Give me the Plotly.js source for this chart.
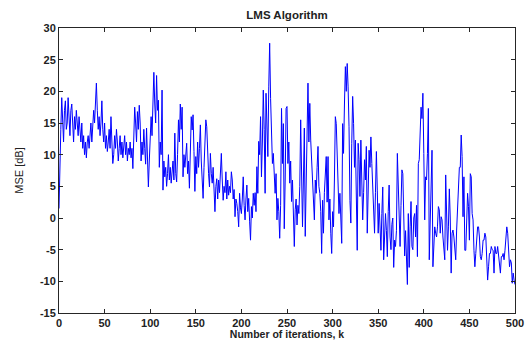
<!DOCTYPE html>
<html>
<head>
<meta charset="utf-8">
<script src="https://cdn.plot.ly/plotly-3.0.1.min.js"></script>
<style>html,body{margin:0;padding:0;background:#fff;}#chart{width:530px;height:340px;}</style>
</head>
<body>
<div id="chart"></div>
<script>
// MSE [dB] per iteration k = 0..500
const mseDb = [
  1.5, 6, 14, 19, 16, 12, 17, 18.5, 14, 15,
  19, 16, 13, 17, 18, 15, 12, 16, 14, 17,
  15, 13, 16, 14, 12, 15, 11, 13, 10, 12,
  9.5, 12, 13, 11, 14, 15, 12, 16, 17, 15,
  18, 21.3, 17, 14, 16, 13, 15, 18.5, 14, 12,
  15, 11, 13, 10.5, 12, 14, 11, 16, 12, 8.6,
  10, 13, 11, 14, 12, 9, 11, 13, 10, 12,
  9.5, 11, 13, 10, 12, 9, 11, 10, 12, 9.5,
  11, 7.8, 13, 17.5, 15, 12, 16.8, 14, 17.8, 15,
  9, 12, 10, 14, 11, 8.5, 14.2, 10, 4.9, 9,
  12, 16, 13, 19, 23, 18, 15, 22.5, 17, 18.6,
  8, 12, 10, 20.2, 4.4, 9, 6.5, 8, 5, 7,
  10, 6, 8, 5.5, 7, 9, 6, 13.4, 7, 5.7,
  10, 15.5, 12, 18, 14, 17.5, 6.5, 10, 8, 11,
  11.8, 7, 9, 4.7, 10, 16, 13.9, 16.3, 10.5, 4.2,
  9.7, 7, 12, 8, 11, 14.7, 9, 6, 3.1, 8,
  12, 15.5, 14.4, 9, 7, 4.9, 10.2, 7, 5.5, 8,
  4, 1, 5, 6.2, 3, 6, 4, 7, 10.2, 6,
  2.8, 5, 4, 7.3, 3, 6, 3.6, 5, 4, 7.3,
  6, 3, 4.5, 0.2, 3, 2.3, 1, -1.4, 3.9, 1.6,
  0.7, 3, 6.5, 2, -0.3, 3, 5.2, 1, 3.1, -0.5,
  -3.5, 1.8, 0, 3.9, 2, 4, 1, 8.1, 3.9, 12.1,
  10, 16, 6.5, 12, 20.2, 14, 3.9, 19.7, 12, 9.7,
  20.7, 27.6, 18.9, 13, 8.6, 10.2, 6, 3.9, 7, -0.3,
  3.1, 1, -3.2, 2, 17.3, 8.6, 14.9, -1.7, 6, 17.3,
  17.6, 8.6, 12, 5.5, 9, 2.6, 6, -1.4, -4.5, 1.3,
  3, -1.1, 2, 0.7, 5, 15.5, 4, -1.4, 6, 14.2,
  -2.9, 8, 16.7, 21.3, 12, 18.1, 12.3, 9.2, 7.6, 4,
  -0.3, 6, 3.9, 8, 11.3, 5, 3.9, 1, -5.6, 2.8,
  -2.4, 4, 6.5, 9.7, 2.5, 9.7, -0.3, 3, -2.4, -5.6,
  1, -1.4, 6, 16, 14.9, 10, 8.1, 0.7, 3.9, -1,
  -4, 14.9, 10.2, 18, 23.9, 20, 24.4, 20.7, 14.4, 2.8,
  -0.8, 11.8, 19.2, 14.9, 8, 12.3, 0.7, -5.1, 11.8, 9.2,
  3.4, 12.3, 6, -0.3, 4, 9.2, 6, 11.3, -2.4, 5,
  10.7, 8, 12.8, 8.6, 5, 3.4, -2.4, 4, 10.5, 4.4,
  -2.4, 2.3, -1, -5.1, 0.7, 4.9, -6.6, -3, 0.7, -2,
  -6.1, 1, 5.2, -3, -5, -1, 0, -7.8, -3.5, -4.5,
  -2, 10.2, 4.4, -3, -4.5, 2, 7.6, 7, 1, -6,
  -2, -8, -10.5, 0.7, -7.8, -1.4, 2.6, -4.5, -5, 0,
  0.7, -3, 2, -6.1, 8.6, 9.2, 14.9, 17.5, 15.7, 19.7,
  10.2, -0.3, 6.5, 6, 10.2, 17.3, -6.6, -1.4, 7, 10.7,
  -7.7, -4.5, -1.4, -2.4, -3, -1.4, 1.8, 1.3, -2.4, 0.2,
  -0.3, -3, -5, -6.6, 6.8, 1.8, -5.1, -1.4, 4.6, 0,
  -8.7, -2.4, -1.9, -3, -5.1, -6.6, -1.9, 2.1, 7, 8,
  8, 13.1, 9.7, 0.2, 6.5, -5.1, -5.1, 0.2, 3.9, 1.8,
  -3.5, 7, 6.5, 0.7, -0.3, -5.1, -7.7, -5.6, -3.5, -1.4,
  -1.4, -3, -6.1, -6.6, -5.6, -3.5, -3.5, -2.4, -3, -6.6,
  -9.8, -7.7, -5.6, -5.6, -4.5, -5, -5.1, -8.7, -4.5, -5.6,
  -5.6, -4.5, -5.6, -7, -8.7, -6.1, -6.1, -5.6, -6.6, -5.1,
  -3, -1.4, -2.4, -6.6, -7.7, -6.6, -7.1, -10.3, -8.7, -9.8,
  -10.5
];
const iterations = mseDb.map((_, i) => i);
const xTicks = [0, 50, 100, 150, 200, 250, 300, 350, 400, 450, 500];
const yTicks = [-15, -10, -5, 0, 5, 10, 15, 20, 25, 30];

const fontFam = '"Liberation Sans", Arial, Helvetica, sans-serif';
const trace = {
  x: iterations, y: mseDb, type: 'scatter', mode: 'lines',
  line: {color: '#0000ff', width: 1}, hoverinfo: 'skip'
};
const axisCommon = {
  showgrid: false, zeroline: false, showline: true, linecolor: '#262626', linewidth: 1,
  mirror: 'ticks', ticks: 'inside', ticklen: 4, tickcolor: '#262626', tickwidth: 1,
  tickfont: {family: fontFam, size: 11, color: '#222', weight: 700}
};
const layout = {
  width: 530, height: 340,
  margin: {l: 59, r: 15, t: 28, b: 27, pad: 0},
  paper_bgcolor: '#fff', plot_bgcolor: '#fff',
  showlegend: false,
  title: {text: 'LMS Algorithm', font: {family: fontFam, size: 11.5, color: '#222', weight: 700},
          x: 0.5, xref: 'paper', y: 1 - 15/340, yref: 'container', yanchor: 'middle'},
  xaxis: Object.assign({}, axisCommon, {
    range: [0, 500], tickmode: 'array', tickvals: xTicks, ticktext: xTicks.map(String),
    title: {text: 'Number of iterations, k', font: {family: fontFam, size: 10.5, color: '#222', weight: 700}, standoff: 3}
  }),
  yaxis: Object.assign({}, axisCommon, {
    range: [-15, 30], tickmode: 'array', tickvals: yTicks, ticktext: yTicks.map(String),
    title: {text: 'MSE [dB]', font: {family: fontFam, size: 11, color: '#222'}, standoff: 14}
  })
};
Plotly.newPlot('chart', [trace], layout, {staticPlot: true, displayModeBar: false});
</script>
</body>
</html>
